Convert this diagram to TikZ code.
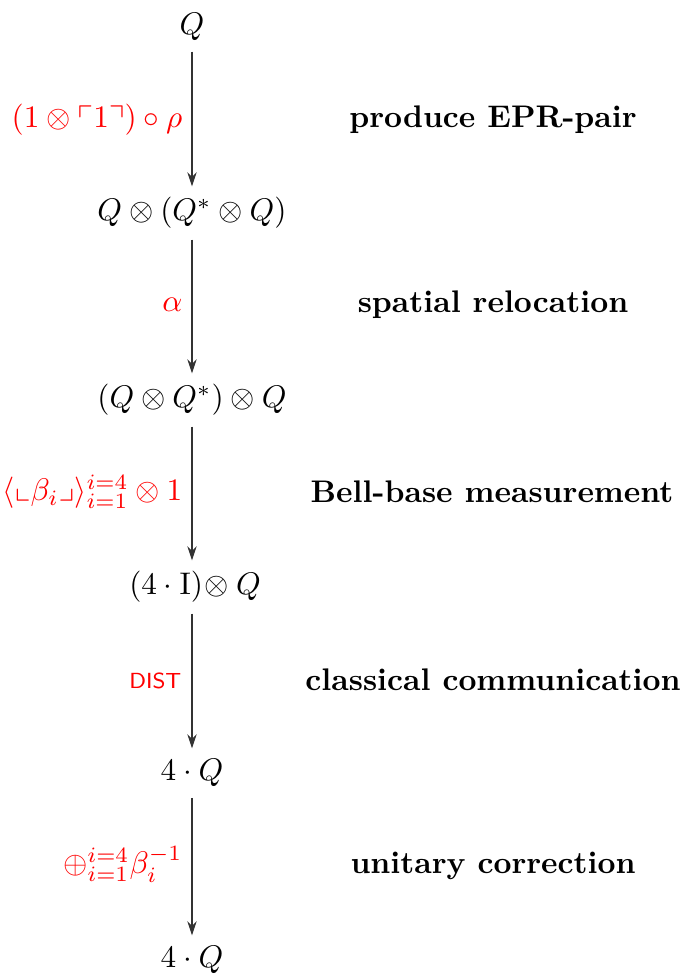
\documentclass[tikz,border=0pt]{standalone}
\usepackage{amsmath,amssymb}
\usetikzlibrary{arrows.meta}
\begin{document}
\begin{tikzpicture}[x=0.32pt,y=-0.32pt,
  obj/.style={inner sep=0.333em},
  lbl/.style={text=red,anchor=east,inner sep=0pt},
  step text/.style={font=\bfseries,inner sep=0pt},
  arr/.style={draw=black!80,line width=0.4pt,-{Stealth[length=4.5pt,width=3pt]}}]
\useasboundingbox (0,0) rectangle (684,977);
\node[obj] (n1) at (192,27) {$Q$};
\node[obj] (n2) at (192,213) {$Q\otimes(Q^{*}\otimes Q)$};
\node[obj] (n3) at (192,400) {$(Q\otimes Q^{*})\otimes Q$};
\node[obj] (n4) at (195,587) {$(4\cdot\mathrm{I})\mkern1mu{\otimes}\mkern4mu Q$};
\node[obj] (n5) at (192,773) {$4\cdot Q$};
\node[obj] (n6) at (192,960) {$4\cdot Q$};
\draw[arr] (n1) -- (n2);
\draw[arr] (n2) -- (n3);
\draw[arr] (n3.south) -- (n3.south |- n4.north);
\draw[arr] (n4.south -| n5) -- (n5.north);
\draw[arr] (n5) -- (n6);
\node[lbl] (l1) at (183,120) {$(1\otimes\ulcorner 1\urcorner)\circ\rho$};
\node[lbl] (l2) at (183,305) {$\alpha$};
\node[lbl] (l3) at (183,492) {$\langle\llcorner\beta_i\lrcorner\rangle_{i=1}^{i=4}\otimes 1$};
\node[lbl] (l4) at (182,681) {\textsf{\scriptsize DIST}};
\node[lbl] (l5) at (183,864) {$\oplus_{i=1}^{i=4}\beta_i^{-1}$};
\node[step text] (t1) at (493,120) {produce EPR-pair};
\node[step text] (t2) at (493,305) {spatial relocation};
\node[step text] (t3) at (492,492) {Bell-base measurement};
\node[step text] (t4) at (493,680) {classical communication};
\node[step text] (t5) at (493,866) {unitary correction};
\end{tikzpicture}
\end{document}
